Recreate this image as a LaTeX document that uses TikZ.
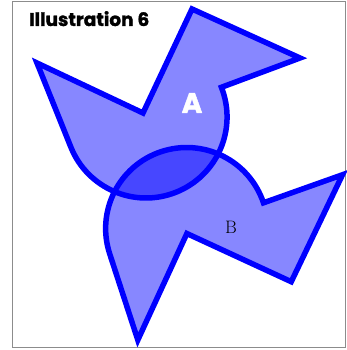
\documentclass[tikz,border=0pt]{standalone}
\usepackage{fontspec}
\newfontfamily\titlefont{Poppins}[BoldFeatures={FakeBold=1.6}]
\begin{document}
\begin{tikzpicture}[x=1pt,y=1pt,
  petalfill/.style={fill=blue, fill opacity=0.47, draw=none},
  petalline/.style={draw=blue, line width=5.5pt, line join=miter},
  frameline/.style={draw=black!45, line width=1pt},
  mirrorB/.style={shift={(86,148)}, rotate=20, yscale=-1, rotate=-20, shift={(-86,-148)}}]
\useasboundingbox (0,0) rectangle (346,350);
\def\petal{(37,287) -- (143,237) -- (192,341) -- (300,292) -- (221.4,262.7) arc[start angle=21.5, end angle=-158.15, radius=81] -- cycle}
\draw[frameline] (12,2) rectangle (345.5,348);
% fills
\path[petalfill] \petal;
\begin{scope}[mirrorB]
\path[petalfill] \petal;
\end{scope}
% outlines
\path[petalline] \petal;
\begin{scope}[mirrorB]
\path[petalline] \petal;
\end{scope}
% labels
\node[anchor=base west, inner sep=0pt, font=\titlefont\bfseries\fontsize{18.5}{18.5}\selectfont] (title) at (29,324) {Illustration 6};
\node[inner sep=0pt, text=white, font=\titlefont\bfseries\fontsize{28}{28}\selectfont] (la) at (192,247) {A};
\node[inner sep=0pt, font=\fontsize{18}{18}\selectfont] (lb) at (231,123) {B};
\end{tikzpicture}
\end{document}
